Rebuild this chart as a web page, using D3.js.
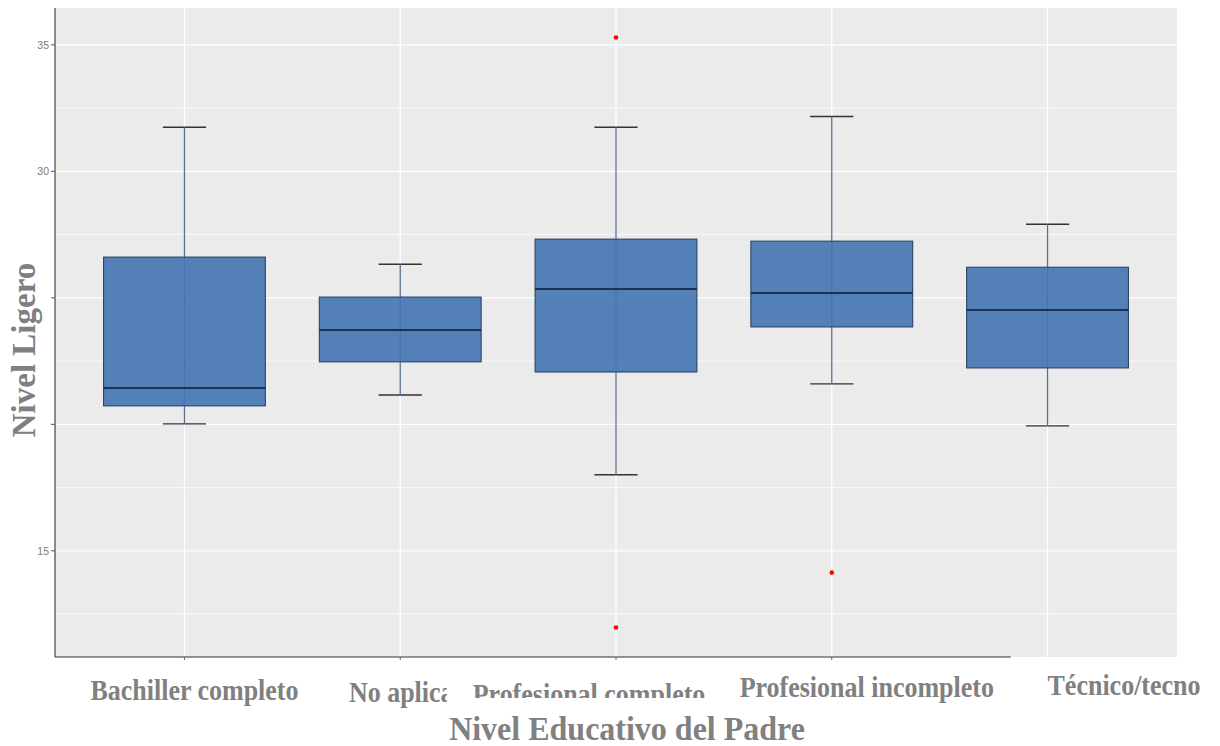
<!DOCTYPE html>
<html>
<head>
<meta charset="utf-8">
<script src="https://cdn.jsdelivr.net/npm/d3@7"></script>
<style>
  html, body { margin: 0; padding: 0; background: #ffffff; }
  svg { display: block; }
</style>
</head>
<body>
<svg id="chart" width="1220" height="746"></svg>
<script>
// Boxplot summaries of "Nivel Ligero" by father's education level
const categories = ["Bachiller completo", "No aplica", "Profesional completo", "Profesional incompleto", "Técnico/tecno"];
const whiskerLow  = [20.02, 21.16, 18.01, 21.60, 19.94];
const q1          = [20.73, 22.47, 22.07, 23.85, 22.23];
const medians     = [21.44, 23.73, 25.35, 25.19, 24.52];
const q3          = [26.61, 25.03, 27.32, 27.24, 26.21];
const whiskerHigh = [31.74, 26.33, 31.74, 32.17, 27.91];
const outliers    = [[], [], [35.29, 11.97], [14.14], []];

const yTicks      = [35, 30, 25, 20, 15];
const yTickLabels = ["35", "30", "", "", "15"];
const yMinor      = [32.5, 27.5, 22.5, 17.5, 12.5];

const svg = d3.select("#chart");
const panel = { left: 55, right: 1177, top: 8, bottom: 657 };

// value range with 5% expansion on each side
const allVals = whiskerLow.concat(whiskerHigh, outliers.flat());
const lo = d3.min(allVals), hi = d3.max(allVals);
const pad = (hi - lo) * 0.05;

const x = d3.scalePoint().domain(categories).range([panel.left, panel.right]).padding(0.6);
const y = d3.scaleLinear().domain([lo - pad, hi + pad]).range([panel.bottom, panel.top]);
const step = x.step();

// panel background
svg.append("rect")
  .attr("x", panel.left).attr("y", panel.top)
  .attr("width", panel.right - panel.left).attr("height", panel.bottom - panel.top)
  .attr("fill", "#ebebeb");

// grid
const grid = svg.append("g");
grid.selectAll("line.minor").data(yMinor).join("line")
  .attr("x1", panel.left).attr("x2", panel.right)
  .attr("y1", d => y(d)).attr("y2", d => y(d))
  .attr("stroke", "#ffffff").attr("stroke-width", 0.7);
grid.selectAll("line.majorY").data(yTicks).join("line")
  .attr("x1", panel.left).attr("x2", panel.right)
  .attr("y1", d => y(d)).attr("y2", d => y(d))
  .attr("stroke", "#ffffff").attr("stroke-width", 1.3);
grid.selectAll("line.majorX").data(categories).join("line")
  .attr("x1", d => x(d)).attr("x2", d => x(d))
  .attr("y1", panel.top).attr("y2", panel.bottom)
  .attr("stroke", "#ffffff").attr("stroke-width", 1.3);

// boxes
const rows = categories.map((c, i) => ({
  cat: c, lw: whiskerLow[i], q1: q1[i], med: medians[i], q3: q3[i], hw: whiskerHigh[i], out: outliers[i]
}));
const boxW = step * 0.75;
const capW = step * 0.2;

const g = svg.append("g");
// whisker caps
g.selectAll("line.capHi").data(rows).join("line")
  .attr("x1", d => x(d.cat) - capW / 2).attr("x2", d => x(d.cat) + capW / 2)
  .attr("y1", d => y(d.hw)).attr("y2", d => y(d.hw))
  .attr("stroke", "#333333").attr("stroke-width", 1.4);
g.selectAll("line.capLo").data(rows).join("line")
  .attr("x1", d => x(d.cat) - capW / 2).attr("x2", d => x(d.cat) + capW / 2)
  .attr("y1", d => y(d.lw)).attr("y2", d => y(d.lw))
  .attr("stroke", "#333333").attr("stroke-width", 1.4);
// whisker stems
g.selectAll("line.stem").data(rows).join("line")
  .attr("x1", d => x(d.cat)).attr("x2", d => x(d.cat))
  .attr("y1", d => y(d.lw)).attr("y2", d => y(d.hw))
  .attr("stroke", "#5b6e8d").attr("stroke-width", 1.3);
// box bodies
g.selectAll("rect.box").data(rows).join("rect")
  .attr("x", d => x(d.cat) - boxW / 2).attr("width", boxW)
  .attr("y", d => y(d.q3)).attr("height", d => y(d.q1) - y(d.q3))
  .attr("fill", "#4474b2").attr("fill-opacity", 0.9)
  .attr("stroke", "#2c4366").attr("stroke-width", 1.1);
// medians
g.selectAll("line.med").data(rows).join("line")
  .attr("x1", d => x(d.cat) - boxW / 2).attr("x2", d => x(d.cat) + boxW / 2)
  .attr("y1", d => y(d.med)).attr("y2", d => y(d.med))
  .attr("stroke", "#1f3050").attr("stroke-width", 2);
// outliers
g.selectAll("circle.out").data(rows.flatMap(d => d.out.map(v => ({ cat: d.cat, v })))).join("circle")
  .attr("cx", d => x(d.cat)).attr("cy", d => y(d.v)).attr("r", 2.3)
  .attr("fill", "#ff0000");

// y axis
svg.append("line")
  .attr("x1", panel.left).attr("x2", panel.left)
  .attr("y1", panel.top).attr("y2", panel.bottom)
  .attr("stroke", "#333333").attr("stroke-width", 1.1);
const yt = svg.append("g");
yt.selectAll("line").data(yTicks).join("line")
  .attr("x1", panel.left - 4).attr("x2", panel.left)
  .attr("y1", d => y(d)).attr("y2", d => y(d))
  .attr("stroke", "#555555").attr("stroke-width", 1);
yt.selectAll("text").data(yTicks).join("text")
  .attr("x", panel.left - 6).attr("y", d => y(d)).attr("dy", "0.35em")
  .attr("text-anchor", "end")
  .attr("font-family", "Liberation Sans, Arial, sans-serif").attr("font-size", 10.5)
  .attr("fill", "#7a7a7a")
  .text((d, i) => yTickLabels[i]);

// x axis (line stops short of the panel edge)
const xAxisEnd = x(categories[3]) + step * 0.83;
svg.append("line")
  .attr("x1", panel.left).attr("x2", xAxisEnd)
  .attr("y1", panel.bottom).attr("y2", panel.bottom)
  .attr("stroke", "#333333").attr("stroke-width", 1.2);
svg.append("g").selectAll("line").data(categories.slice(0, 4)).join("line")
  .attr("x1", d => x(d)).attr("x2", d => x(d))
  .attr("y1", panel.bottom).attr("y2", panel.bottom + 3)
  .attr("stroke", "#666666").attr("stroke-width", 1);

// category labels, each with its own offset, anchor and clip window
const labelStyle = [
  { dx: 10,  base: 700, anchor: "middle", clip: null },
  { dx: 1,   base: 702, anchor: "middle", clip: { x0: 0, x1: 447, y0: 0, y1: 746 } },
  { dx: -27, base: 704, anchor: "middle", clip: { x0: 0, x1: 1220, y0: 0, y1: 698 } },
  { dx: 35,  base: 697, anchor: "middle", clip: null },
  { dx: 0,   base: 695, anchor: "start",  clip: null }
];
const defs = svg.append("defs");
const xl = svg.append("g");
categories.forEach((c, i) => {
  const s = labelStyle[i];
  const holder = xl.append("g");
  if (s.clip) {
    const id = "lblclip" + i;
    defs.append("clipPath").attr("id", id).append("rect")
      .attr("x", s.clip.x0).attr("y", s.clip.y0)
      .attr("width", s.clip.x1 - s.clip.x0).attr("height", s.clip.y1 - s.clip.y0);
    holder.attr("clip-path", `url(#${id})`);
  }
  holder.append("text")
    .attr("transform", `translate(${x(c) + s.dx},${s.base}) scale(1,1.15)`)
    .attr("text-anchor", s.anchor)
    .attr("font-family", "Liberation Serif, Times New Roman, serif")
    .attr("font-weight", "bold").attr("font-size", 26)
    .attr("fill", "#808080")
    .text(c);
});

// axis titles
svg.append("text")
  .attr("transform", "translate(627,740) scale(1,1.08)")
  .attr("text-anchor", "middle")
  .attr("font-family", "Liberation Serif, Times New Roman, serif")
  .attr("font-weight", "bold").attr("font-size", 32)
  .attr("fill", "#808080")
  .text("Nivel Educativo del Padre");
svg.append("text")
  .attr("transform", "translate(35,350) rotate(-90)")
  .attr("text-anchor", "middle")
  .attr("font-family", "Liberation Serif, Times New Roman, serif")
  .attr("font-weight", "bold").attr("font-size", 33)
  .attr("fill", "#808080")
  .text("Nivel Ligero");
</script>
</body>
</html>
